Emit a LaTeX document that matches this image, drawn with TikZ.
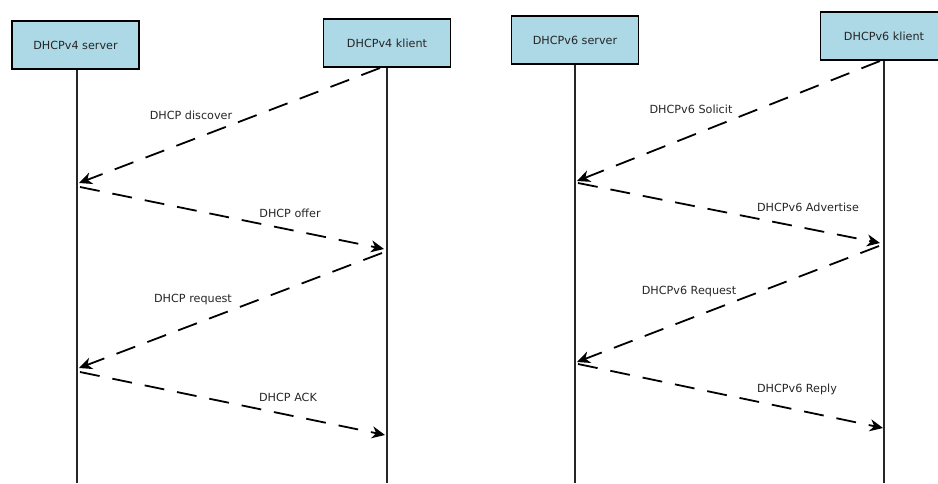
\documentclass[tikz,border=0pt]{standalone}
\usepackage{fontspec}
\setmainfont{DejaVu Sans}
\usetikzlibrary{arrows.meta}
\begin{document}
\begin{tikzpicture}[x=1pt,y=-1pt,
  actor/.style={draw=black,line width=1.7pt,fill={rgb,255:red,173;green,216;blue,230},
    minimum width=127pt,minimum height=48pt,inner sep=0pt,
    font=\fontsize{11.2}{13}\selectfont,text=black!85},
  lifeline/.style={line width=1.3pt,draw=black!85},
  msg/.style={line width=1.8pt,dash pattern=on 20pt off 13pt,
    -{Stealth[length=13pt,width=12pt,inset=4pt]}},
  lbl/.style={font=\fontsize{11.2}{13}\selectfont,text=black!85,inner sep=0pt}]
  \useasboundingbox (0,0) rectangle (938,483);

  % participants
  \node[actor] (s4) at (75.5,45) {DHCPv4 server};
  \node[actor] (c4) at (387,43) {DHCPv4 klient};
  \node[actor] (s6) at (575,40) {DHCPv6 server};
  \node[actor] (c6) at (884,36) {DHCPv6 klient};

  % lifelines
  \coordinate (s4e) at (77,483);
  \coordinate (c4e) at (387,483);
  \coordinate (s6e) at (575,483);
  \coordinate (c6e) at (884,483);
  \draw[lifeline] (s4.south -| s4e) -- (s4e);
  \draw[lifeline] (c4.south -| c4e) -- (c4e);
  \draw[lifeline] (s6.south -| s6e) -- (s6e);
  \draw[lifeline] (c6.south -| c6e) -- (c6e);

  % DHCPv4 exchange points
  \coordinate (a1) at (380,68);  \coordinate (a2) at (79,183);
  \coordinate (b1) at (80,187);  \coordinate (b2) at (384,249);
  \coordinate (c1) at (382,253); \coordinate (c2) at (79,368);
  \coordinate (d1) at (80,372);  \coordinate (d2) at (385,435);

  % DHCPv6 exchange points
  \coordinate (e1) at (880,61);  \coordinate (e2) at (577,181);
  \coordinate (f1) at (578,183); \coordinate (f2) at (880,243);
  \coordinate (g1) at (879,246); \coordinate (g2) at (577,362);
  \coordinate (h1) at (578,364); \coordinate (h2) at (883,428);

  \draw[msg] (a1) -- (a2);
  \draw[msg] (b1) -- (b2);
  \draw[msg] (c1) -- (c2);
  \draw[msg] (d1) -- (d2);
  \draw[msg] (e1) -- (e2);
  \draw[msg] (f1) -- (f2);
  \draw[msg] (g1) -- (g2);
  \draw[msg] (h1) -- (h2);

  % message labels
  \node[lbl] (la) at (191,115) {DHCP discover};
  \node[lbl] (lb) at (290,213) {DHCP offer};
  \node[lbl] (lc) at (193,300) {DHCP request};
  \node[lbl] (ld) at (288,397) {DHCP ACK};
  \node[lbl] (le) at (691,109) {DHCPv6 Solicit};
  \node[lbl] (lf) at (808,207) {DHCPv6 Advertise};
  \node[lbl] (lg) at (689,292) {DHCPv6 Request};
  \node[lbl] (lh) at (797,389) {DHCPv6 Reply};
\end{tikzpicture}
\end{document}
